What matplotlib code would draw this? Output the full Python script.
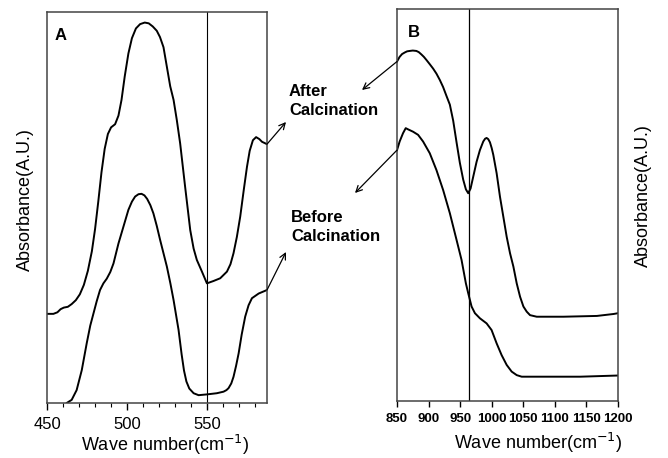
import matplotlib
matplotlib.use("agg")
import matplotlib.pyplot as plt
from matplotlib.patches import FancyArrowPatch
from matplotlib.ticker import MultipleLocator

plt.rcParams['font.family'] = ['Liberation Sans', 'DejaVu Sans']

# low wave number region (panel A)
wn_a_after = [450.0, 454.0, 456.5, 458.5, 460.5, 463.0, 465.4, 468.0, 470.5,
              473.0, 475.5, 478.0, 480.0, 482.0, 484.0, 486.0, 488.0, 490.0,
              492.5, 494.6, 496.5, 498.5, 500.8, 503.0, 505.5, 508.1, 511.0,
              513.5, 516.0, 518.5, 520.5, 522.7, 524.8, 526.9, 529.0, 531.0,
              533.1, 536.2, 539.4, 541.5, 543.5, 546.7, 549.8, 553.9, 558.1,
              562.3, 564.5, 566.4, 568.5, 570.6, 572.8, 574.8, 576.5, 578.5,
              580.5, 582.5, 584.2, 587.3]
abs_a_after = [22.8, 22.8, 23.2, 24.0, 24.4, 24.6, 25.3, 26.3, 27.8,
               30.2, 33.8, 38.8, 44.5, 51.5, 59.0, 65.0, 68.8, 70.5,
               71.3, 73.5, 77.5, 83.5, 89.4, 93.3, 95.8, 96.9, 97.3,
               97.1, 96.3, 95.2, 93.6, 91.0, 86.0, 81.0, 77.5, 72.4,
               66.4, 55.3, 44.2, 39.5, 36.6, 33.6, 30.6, 31.2, 31.9,
               33.6, 35.5, 38.3, 42.5, 47.7, 54.5, 60.4, 64.5, 67.2,
               68.0, 67.5, 66.8, 66.2]

wn_a_before = [460.0, 462.3, 465.4, 468.5, 471.7, 474.8, 477.0, 479.0, 481.0,
               483.1, 485.2, 487.3, 489.5, 491.5, 494.6, 497.7, 500.8, 503.0,
               505.0, 507.1, 509.0, 510.8, 512.5, 514.5, 516.4, 518.5, 520.6,
               522.7, 524.8, 527.0, 529.0, 532.1, 534.0, 535.5, 537.0, 538.8,
               541.5, 544.6, 549.8, 556.0, 560.2, 562.0, 563.3, 565.0, 566.4,
               568.0, 569.6, 571.5, 573.7, 575.8, 577.9, 582.1, 587.3]
abs_a_before = [-1.5, 0.0, 0.8, 3.3, 8.4, 15.3, 19.8, 22.9, 26.0,
                28.9, 30.6, 31.8, 33.5, 35.7, 40.8, 45.1, 49.4, 51.5,
                52.8, 53.4, 53.5, 53.1, 52.2, 50.6, 48.5, 45.3, 41.7,
                38.3, 34.9, 30.6, 26.3, 18.7, 12.5, 8.3, 5.5, 3.7,
                2.5, 2.0, 2.2, 2.5, 2.9, 3.3, 3.8, 5.0, 6.7,
                9.5, 12.7, 17.5, 22.1, 25.0, 26.8, 28.0, 28.9]

# high wave number region (panel B)
wn_b_after = [850.0, 854.2, 858.0, 862.2, 866.0, 870.1, 875.0, 880.7, 884.5,
              888.7, 892.5, 896.6, 901.5, 907.2, 912.5, 917.8, 923.0, 928.4,
              933.7, 939.0, 944.3, 949.5, 954.8, 959.1, 962.8, 966.5, 970.7,
              976.0, 981.3, 986.6, 989.5, 991.9, 994.5, 997.2, 1000.0, 1002.5,
              1007.8, 1013.1, 1018.4, 1023.7, 1029.0, 1034.3, 1039.6, 1044.9,
              1050.2, 1055.4, 1060.7, 1071.3, 1113.7, 1166.6, 1193.1, 1200.0]
abs_b_after = [86.6, 87.8, 88.5, 88.9, 89.2, 89.3, 89.4, 89.3, 89.0,
               88.4, 87.8, 87.0, 86.0, 84.8, 83.5, 81.9, 80.1, 77.8,
               75.6, 71.5, 66.0, 60.8, 56.5, 54.0, 53.0, 54.2, 57.2,
               61.0, 64.0, 66.2, 66.9, 67.1, 66.8, 66.0, 64.5, 62.8,
               58.1, 52.1, 47.0, 41.9, 37.7, 34.3, 30.0, 26.6,
               24.1, 22.8, 21.9, 21.5, 21.5, 21.7, 22.2, 22.4]

wn_b_before = [850.0, 854.2, 859.5, 863.8, 867.5, 875.4, 883.4, 891.3, 901.9,
               912.5, 923.1, 933.7, 944.3, 952.2, 959.1, 962.8, 968.1, 973.4,
               981.3, 991.9, 999.8, 1007.8, 1015.7, 1023.7, 1031.6, 1039.6,
               1047.5, 1087.2, 1140.2, 1200.0]
abs_b_before = [64.0, 66.2, 68.3, 69.6, 69.3, 68.7, 67.9, 66.2, 63.2,
                58.9, 53.8, 47.9, 41.1, 36.0, 30.0, 27.5, 24.1, 22.4,
                21.1, 19.8, 18.1, 14.7, 11.7, 9.2, 7.5, 6.6,
                6.2, 6.2, 6.2, 6.5]

W, H = 668, 458


def px(x, y):
    # pixel position (from top-left) -> figure fraction
    return (x / W, 1 - y / H)


fig = plt.figure(figsize=(W / 100, H / 100), dpi=100)
ax_a = fig.add_axes([47 / W, 1 - 403 / H, 220 / W, 391 / H])
ax_b = fig.add_axes([397 / W, 1 - 401 / H, 221 / W, 392 / H])

for ax in (ax_a, ax_b):
    for sp in ax.spines.values():
        sp.set_color('#444444')
        sp.set_linewidth(1.1)
    ax.set_yticks([])
    ax.set_ylim(0, 100)

ax_a.plot(wn_a_after, abs_a_after, color='black', lw=1.4)
ax_a.plot(wn_a_before, abs_a_before, color='black', lw=1.4)
ax_a.axvline(550, color='black', lw=0.8)
ax_a.set_xlim(450, 587.3)
ax_a.xaxis.set_major_locator(MultipleLocator(50))
ax_a.xaxis.set_minor_locator(MultipleLocator(10))
ax_a.tick_params(axis='x', which='major', direction='out', length=5,
                 width=1.0, labelsize=12, pad=5)
ax_a.tick_params(axis='x', which='minor', direction='out', length=3, width=0.8)
ax_a.text(0.036, 0.96, 'A', transform=ax_a.transAxes, fontsize=12,
          fontweight='bold', ha='left', va='top')

ax_b.plot(wn_b_after, abs_b_after, color='black', lw=1.4)
ax_b.plot(wn_b_before, abs_b_before, color='black', lw=1.4)
ax_b.axvline(964, color='black', lw=0.9)
ax_b.set_xlim(850, 1200)
ax_b.set_xticks(range(850, 1201, 50))
ax_b.tick_params(axis='x', which='major', direction='out', length=4,
                 width=1.0, labelsize=9.5, pad=5)
for lab in ax_b.get_xticklabels():
    lab.set_fontweight('bold')
ax_b.text(0.05, 0.96, 'B', transform=ax_b.transAxes, fontsize=12,
          fontweight='bold', ha='left', va='top')

# axis titles
fig.text(*px(165, 445), 'Wave number(cm$^{-1}$)', fontsize=13,
         ha='center', va='center')
fig.text(*px(538, 443), 'Wave number(cm$^{-1}$)', fontsize=13,
         ha='center', va='center')
fig.text(*px(25, 200), 'Absorbance(A.U.)', fontsize=13, rotation=90,
         ha='center', va='center')
fig.text(*px(643, 196), 'Absorbance(A.U.)', fontsize=13, rotation=90,
         ha='center', va='center')

# sample labels with arrows pointing out of the curves
fig.text(*px(289, 84), 'After\nCalcination', fontsize=12, fontweight='bold',
         ha='left', va='top', linespacing=1.3)
fig.text(*px(291, 210), 'Before\nCalcination', fontsize=12, fontweight='bold',
         ha='left', va='top', linespacing=1.3)

arrow = dict(arrowstyle='->', color='black', lw=0.9,
             shrinkA=0, shrinkB=0, mutation_scale=11)
links = [(ax_a, wn_a_after[-1], abs_a_after[-1], (286, 122)),
         (ax_a, wn_a_before[-1], abs_a_before[-1], (286, 252)),
         (ax_b, wn_b_after[0], abs_b_after[0], (362, 90)),
         (ax_b, wn_b_before[0], abs_b_before[0], (355, 193))]
for ax, x0, y0, head in links:
    fig.add_artist(FancyArrowPatch(
        posA=ax.transData.transform((x0, y0)),
        posB=fig.transFigure.transform(px(*head)),
        transform=None, **arrow))

fig.savefig('out.png', dpi=100)
